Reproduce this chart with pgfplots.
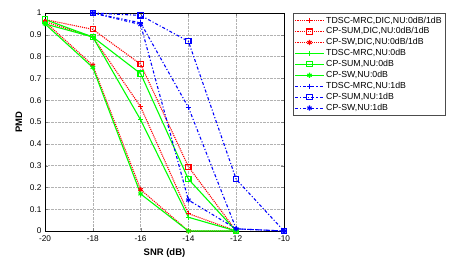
\documentclass[border=0pt]{standalone}
\usepackage{pgfplots}
\pgfplotsset{compat=1.18}
\usepackage{fontspec}
\setmainfont{Liberation Sans}
\setsansfont{Liberation Sans}
\begin{document}
\begin{tikzpicture}
\begin{axis}[
  at={(0,0)}, anchor=south west,
  scale only axis, width=239bp, height=218bp,
  xmin=-20, xmax=-10, ymin=0, ymax=1,
  xtick={-20,-18,...,-10}, ytick={0,0.1,...,1.0},
  yticklabels={0,0.1,0.2,0.3,0.4,0.5,0.6,0.7,0.8,0.9,1},
  tick align=inside, tick pos=both,
  major tick length=3bp,
  /pgf/number format/assume math mode=true,
  tick label style={font=\fontsize{8.3}{9}\selectfont},
  xticklabel style={yshift=-1bp},
  grid=major, grid style={densely dotted, gray!60},
  xlabel={\textbf{SNR (dB)}}, ylabel={\textbf{PMD}},
  label style={font=\fontsize{9.5}{10}\selectfont},
  xlabel style={yshift=0bp},
  ylabel style={yshift=1bp},
  clip=false,
  legend style={at={(1.038,1)}, anchor=north west, font=\fontsize{8.8}{9}\selectfont,
    draw=black!70, inner sep=1.5bp, row sep=-0.9bp, cells={anchor=west}},
  legend image code/.code={\draw[mark repeat=2,mark phase=2] plot coordinates {(0cm,0cm) (0.5cm,0cm) (1.0cm,0cm)};},
  every axis plot/.append style={line width=1.1pt, mark size=2.6pt},
]
% red dotted (DIC)
\addplot[red, densely dotted, mark=+, mark options={solid}] coordinates {(-20,0.96) (-18,0.89) (-16,0.57) (-14,0.08) (-12,0)};
\addplot[red, densely dotted, mark=square, mark options={solid}] coordinates {(-20,0.97) (-18,0.925) (-16,0.765) (-14,0.295) (-12,0)};
\addplot[red, densely dotted, mark=asterisk, mark options={solid}] coordinates {(-20,0.96) (-18,0.76) (-16,0.19) (-14,0.0) (-12,0)};
% green solid (NU 0dB)
\addplot[green, solid, mark=+] coordinates {(-20,0.95) (-18,0.89) (-16,0.51) (-14,0.063) (-12,0)};
\addplot[green, solid, mark=square] coordinates {(-20,0.97) (-18,0.89) (-16,0.722) (-14,0.238) (-12,0)};
\addplot[green, solid, mark=asterisk] coordinates {(-20,0.95) (-18,0.75) (-16,0.17) (-14,0.0) (-12,0)};
% blue dash-dot (NU 1dB)
\addplot[blue, dashdotted, mark=+, mark options={solid}] coordinates {(-18,1.0) (-16,0.955) (-14,0.567) (-12,0.01) (-10,0)};
\addplot[blue, dashdotted, mark=square, mark options={solid}] coordinates {(-18,1.0) (-16,0.989) (-14,0.87) (-12,0.237) (-10,0)};
\addplot[blue, dashdotted, mark=asterisk, mark options={solid}] coordinates {(-18,1.0) (-16,0.947) (-14,0.142) (-12,0.01) (-10,0)};
\legend{{TDSC-MRC,DIC,NU:0dB/1dB}, {CP-SUM,DIC,NU:0dB/1dB}, {CP-SW,DIC,NU:0dB/1dB},
  {TDSC-MRC,NU:0dB}, {CP-SUM,NU:0dB}, {CP-SW,NU:0dB},
  {TDSC-MRC,NU:1dB}, {CP-SUM,NU:1dB}, {CP-SW,NU:1dB}}
\end{axis}
\path (-45bp,-35bp) rectangle (424bp,231bp);
\end{tikzpicture}
\end{document}
